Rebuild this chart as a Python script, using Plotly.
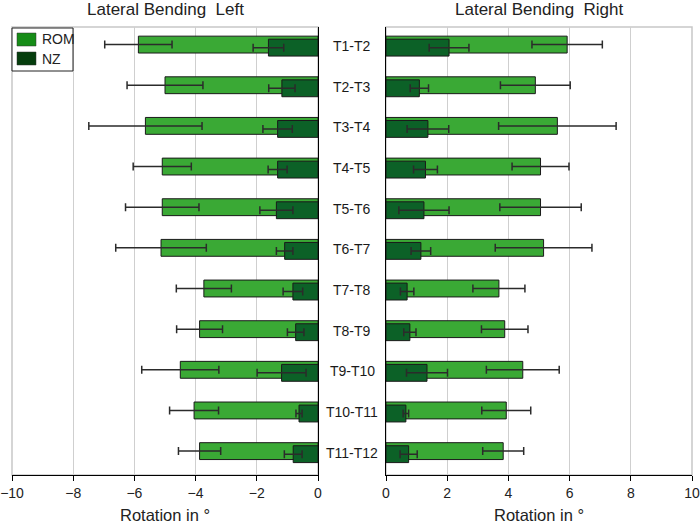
import plotly.graph_objects as go
from plotly.subplots import make_subplots

segments = ["T1-T2", "T2-T3", "T3-T4", "T4-T5", "T5-T6", "T6-T7",
            "T7-T8", "T8-T9", "T9-T10", "T10-T11", "T11-T12"]

rom_left = [-5.87, -5.00, -5.64, -5.09, -5.09, -5.13, -3.73, -3.87, -4.50, -4.05, -3.87]
rom_left_sd = [1.10, 1.24, 1.85, 0.95, 1.20, 1.48, 0.90, 0.75, 1.26, 0.80, 0.69]
nz_left = [-1.62, -1.18, -1.32, -1.32, -1.36, -1.09, -0.82, -0.73, -1.19, -0.62, -0.81]
nz_left_sd = [0.50, 0.43, 0.48, 0.31, 0.54, 0.27, 0.32, 0.27, 0.80, 0.10, 0.29]

rom_right = [5.92, 4.88, 5.60, 5.05, 5.05, 5.15, 3.69, 3.88, 4.47, 3.93, 3.83]
rom_right_sd = [1.15, 1.14, 1.92, 0.93, 1.33, 1.58, 0.85, 0.76, 1.19, 0.80, 0.67]
nz_right = [2.06, 1.09, 1.37, 1.29, 1.24, 1.14, 0.69, 0.78, 1.34, 0.65, 0.74]
nz_right_sd = [0.65, 0.30, 0.68, 0.39, 0.82, 0.32, 0.22, 0.20, 0.67, 0.09, 0.28]

x_ticks_left = [-10, -8, -6, -4, -2, 0]
x_ticks_right = [0, 2, 4, 6, 8, 10]

legend_names = ["ROM", "NZ"]

ROM_COLOR = "#3aa935"
NZ_COLOR = "#0c6127"
LEG_COLORS = ["#168c17", "#053d0d"]
EDGE = "#1a1a1a"
ERR = "#2b2b2b"
FONT = "Liberation Sans, Arial, sans-serif"

W, H = 700, 526
ML, MR, MT, MB = 12, 8, 27, 51
PW, PH = W - ML - MR, H - MT - MB


def px(x):
    return (x - ML) / PW


def py(y):
    return (H - MB - y) / PH


fig = make_subplots(rows=1, cols=2, horizontal_spacing=0.1)


def add_bars(x, sd, col, color, name, offset):
    fig.add_trace(go.Bar(
        y=segments, x=x, orientation="h", name=name,
        marker=dict(color=color, line=dict(color=EDGE, width=1)),
        offset=offset, width=0.415,
        error_x=dict(type="data", array=sd, symmetric=True, color=ERR,
                     thickness=1.5, width=4),
        showlegend=False,
    ), row=1, col=col)


add_bars(rom_left, rom_left_sd, 1, ROM_COLOR, "ROM", -0.245)
add_bars(nz_left, nz_left_sd, 1, NZ_COLOR, "NZ", -0.17)
add_bars(rom_right, rom_right_sd, 2, ROM_COLOR, "ROM", -0.245)
add_bars(nz_right, nz_right_sd, 2, NZ_COLOR, "NZ", -0.17)

ax_common = dict(showgrid=True, gridcolor="#cfcfcf", gridwidth=1,
                 showline=True, linecolor="#000000", linewidth=1,
                 ticks="outside", ticklen=5, tickcolor="#000000",
                 tickfont=dict(family=FONT, size=14, color="#222"),
                 zeroline=False, automargin=False)
fig.update_xaxes(range=[-10, 0], tickvals=x_ticks_left, **ax_common, row=1, col=1)
fig.update_xaxes(range=[0, 10], tickvals=x_ticks_right, **ax_common, row=1, col=2)
fig.update_layout(xaxis=dict(domain=[0, px(318)]), xaxis2=dict(domain=[px(386), 1.0]))

fig.update_yaxes(type="category", categoryorder="array", categoryarray=segments,
                 range=[10.55, -0.47], showticklabels=False, ticks="",
                 showgrid=False, showline=True, linecolor="#000000", linewidth=1.2,
                 automargin=False)
fig.update_layout(yaxis=dict(side="right"), yaxis2=dict(side="left"))

# grey frame around each plot area
for xr, yr in (("x domain", "y domain"), ("x2 domain", "y2 domain")):
    fig.add_shape(type="rect", xref=xr, yref=yr, x0=0, x1=1, y0=0, y1=1,
                  line=dict(color="#c8c8c8", width=1.5), layer="below")

for s in segments:
    fig.add_annotation(x=px(352), xref="paper", y=s, yref="y",
                       text=s, showarrow=False, xanchor="center",
                       font=dict(family=FONT, size=14, color="#1a1a1a"))

for xr, yr, t in (("x domain", "y domain", "Lateral Bending  Left"),
                  ("x2 domain", "y2 domain", "Lateral Bending  Right")):
    fig.add_annotation(x=0.5, xref=xr, y=1, yref=yr, yshift=18,
                       text=t, showarrow=False, yanchor="middle",
                       font=dict(family=FONT, size=17, color="#222"))
    fig.add_annotation(x=0.5, xref=xr, y=0, yref=yr, yshift=-40,
                       text="Rotation in °", showarrow=False, yanchor="middle",
                       font=dict(family=FONT, size=16.5, color="#222"))

# legend box (drawn manually to match the reference's compact legend)
fig.add_shape(type="rect", xref="paper", yref="paper",
              x0=px(12), x1=px(73), y0=py(71), y1=py(28),
              line=dict(color="#222222", width=1), fillcolor="white", layer="above")
for i, (name, c) in enumerate(zip(legend_names, LEG_COLORS)):
    top = 33 + i * 19
    fig.add_shape(type="rect", xref="paper", yref="paper",
                  x0=px(17), x1=px(36), y0=py(top + 13), y1=py(top),
                  line=dict(color="#333333", width=0.5), fillcolor=c, layer="above")
    fig.add_annotation(x=px(40), xref="paper", y=py(top + 6.5), yref="paper",
                       text=name, showarrow=False, xanchor="left", yanchor="middle",
                       font=dict(family=FONT, size=14, color="#222"))

fig.update_layout(
    width=W, height=H,
    margin=dict(l=ML, r=MR, t=MT, b=MB, autoexpand=False),
    barmode="overlay",
    plot_bgcolor="white", paper_bgcolor="white",
    showlegend=False,
    font=dict(family=FONT),
)

fig.write_html("out.html", config={"displayModeBar": False},
               post_script="document.body.style.margin='0';document.body.style.overflow='hidden';")
